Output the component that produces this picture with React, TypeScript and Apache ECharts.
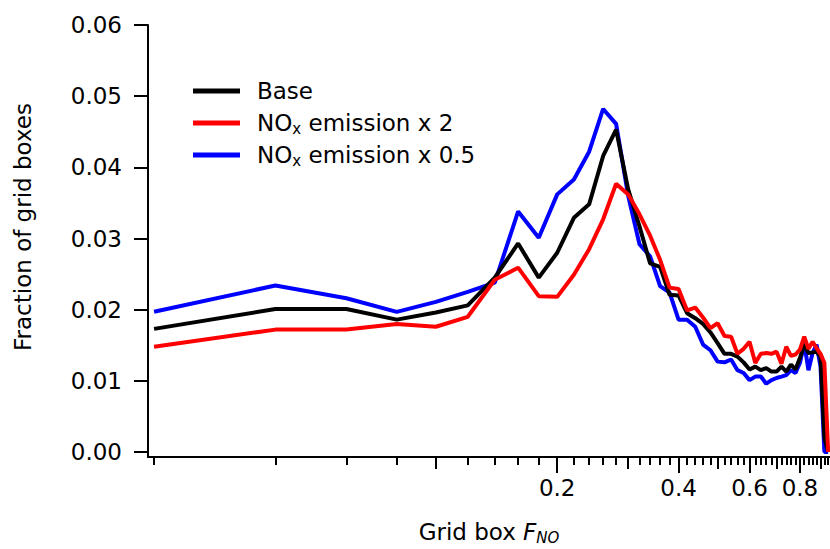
import React, { useEffect, useRef } from 'react';
import * as echarts from 'echarts';

// Bin centres of the grid-box F_NO histogram
const xBins = [
  0.02, 0.04, 0.06, 0.08, 0.10, 0.12, 0.14, 0.16, 0.18, 0.20,
  0.22, 0.24, 0.26, 0.28, 0.30, 0.32, 0.34, 0.36, 0.38, 0.40,
  0.42, 0.44, 0.46, 0.48, 0.50, 0.52, 0.54, 0.56, 0.58, 0.60,
  0.62, 0.64, 0.66, 0.68, 0.70, 0.72, 0.74, 0.76, 0.78, 0.80,
  0.82, 0.84, 0.86, 0.88, 0.90, 0.92, 0.94,
];

const baseValues = [
  0.0173, 0.0201, 0.0201, 0.0186, 0.0196, 0.0206, 0.0245, 0.0293, 0.0245, 0.0280,
  0.0329, 0.0348, 0.0416, 0.0453, 0.0369, 0.0317, 0.0265, 0.0260, 0.0221, 0.0220,
  0.0195, 0.0188, 0.0180, 0.0168, 0.0153, 0.0138, 0.0138, 0.0134, 0.0126, 0.0116,
  0.0120, 0.0115, 0.0118, 0.0113, 0.0113, 0.0120, 0.0113, 0.0123, 0.0116, 0.0132,
  0.0151, 0.0139, 0.0140, 0.0141, 0.0134, 0.0020, 0.0,
];

const noxX2Values = [
  0.0148, 0.0172, 0.0172, 0.0180, 0.0176, 0.0190, 0.0242, 0.0259, 0.0219, 0.0218,
  0.0249, 0.0285, 0.0327, 0.0377, 0.0362, 0.0334, 0.0304, 0.0270, 0.0231, 0.0229,
  0.0199, 0.0203, 0.0189, 0.0174, 0.0181, 0.0163, 0.0162, 0.0138, 0.0145, 0.0155,
  0.0125, 0.0138, 0.0139, 0.0138, 0.0141, 0.0124, 0.0148, 0.0135, 0.0137, 0.0144,
  0.0162, 0.0145, 0.0155, 0.0146, 0.0138, 0.0125, 0.0,
];

const noxHalfValues = [
  0.0197, 0.0234, 0.0216, 0.0197, 0.0211, 0.0225, 0.0238, 0.0338, 0.0301, 0.0362,
  0.0383, 0.0422, 0.0482, 0.0461, 0.0360, 0.0292, 0.0275, 0.0233, 0.0224, 0.0186,
  0.0186, 0.0176, 0.0151, 0.0143, 0.0127, 0.0126, 0.0130, 0.0115, 0.0111, 0.0101,
  0.0106, 0.0106, 0.0096, 0.0101, 0.0104, 0.0106, 0.0108, 0.0115, 0.0111, 0.0125,
  0.0153, 0.0115, 0.0139, 0.0151, 0.0120, 0.0, 0.0,
];

const seriesNames = ['Base', 'NOx emission x 2', 'NOx emission x 0.5'];
const legendLabels = ['Base', 'NO{sub|x} emission x 2', 'NO{sub|x} emission x 0.5'];

const yTickValues = [0, 0.01, 0.02, 0.03, 0.04, 0.05, 0.06];
const xMinorTicks = [
  0.02, 0.04, 0.06, 0.08, 0.12, 0.14, 0.16, 0.18,
  0.22, 0.24, 0.26, 0.28, 0.32, 0.34, 0.36, 0.38,
  0.42, 0.44, 0.46, 0.48, 0.52, 0.54, 0.56, 0.58,
  0.62, 0.64, 0.66, 0.68, 0.72, 0.74, 0.76, 0.78,
  0.82, 0.84, 0.86, 0.88, 0.92, 0.94,
];
const xMediumTicks = [0.1, 0.3, 0.5, 0.7, 0.9];
const xMajorTicks = [0.2, 0.4, 0.6, 0.8];

const FONT = 'DejaVu Sans';

export default function App() {
  const ref = useRef<HTMLDivElement>(null);

  useEffect(() => {
    if (!ref.current) return;
    const chart = echarts.init(ref.current, undefined, { renderer: 'svg' });

    const pairs = (vals: number[]) => xBins.map((x, i) => [x, vals[i]]);
    const xCommon: any = {
      type: 'log',
      min: 0.01932,
      max: 0.95,
      position: 'bottom',
      offset: 0,
      splitLine: { show: false },
      minorTick: { show: false },
    };
    const tickStyle = { color: '#000', width: 2 };

    chart.setOption({
      animation: false,
      textStyle: { fontFamily: FONT },
      grid: {
        left: 148,
        top: 25,
        width: 682,
        height: 432,
        containLabel: false,
        outerBoundsMode: 'none',
      },
      legend: {
        data: seriesNames,
        orient: 'vertical',
        left: 193,
        top: 78,
        padding: 0,
        itemWidth: 47,
        itemHeight: 5,
        itemGap: 6,
        icon: 'rect',
        formatter: (name: string) => legendLabels[seriesNames.indexOf(name)],
        textStyle: {
          fontFamily: FONT,
          fontSize: 23,
          color: '#000',
          lineHeight: 26,
          padding: [0, 0, 0, 12],
          rich: {
            sub: { fontFamily: FONT, fontSize: 15, lineHeight: 10, verticalAlign: 'bottom', color: '#000' },
          },
        },
      },
      xAxis: [
        {
          ...xCommon,
          axisLine: { show: true, onZero: false, lineStyle: tickStyle },
          axisTick: { show: true, customValues: xMajorTicks, length: 16, lineStyle: tickStyle },
          axisLabel: {
            show: true,
            customValues: xMajorTicks,
            margin: 19,
            fontSize: 23,
            fontFamily: FONT,
            color: '#000',
            formatter: (v: number) => String(Math.round(v * 10) / 10),
          },
          name: 'Grid box {f|F}{sub|NO}',
          nameLocation: 'middle',
          nameGap: 62,
          nameMoveOverlap: false,
          nameTextStyle: {
            fontFamily: FONT,
            fontSize: 23,
            color: '#000',
            lineHeight: 26,
            rich: {
              f: { fontFamily: FONT, fontSize: 23, fontStyle: 'italic', color: '#000', lineHeight: 26 },
              sub: { fontFamily: FONT, fontSize: 15, fontStyle: 'italic', color: '#000', lineHeight: 10, verticalAlign: 'bottom' },
            },
          },
        },
        {
          ...xCommon,
          axisLine: { show: false, onZero: false },
          axisTick: { show: true, customValues: xMediumTicks, length: 12, lineStyle: tickStyle },
          axisLabel: { show: false },
        },
        {
          ...xCommon,
          axisLine: { show: false, onZero: false },
          axisTick: { show: true, customValues: xMinorTicks, length: 8, lineStyle: tickStyle },
          axisLabel: { show: false },
        },
      ],
      yAxis: {
        type: 'value',
        min: -0.0007,
        max: 0.06,
        splitLine: { show: false },
        axisLine: { show: true, onZero: false, lineStyle: tickStyle },
        axisTick: { show: true, customValues: yTickValues, length: 14, lineStyle: tickStyle },
        axisLabel: {
          customValues: yTickValues,
          margin: 26,
          fontSize: 23,
          fontFamily: FONT,
          color: '#000',
          formatter: (v: number) => v.toFixed(2),
        },
        name: 'Fraction of grid boxes',
        nameLocation: 'middle',
        nameRotate: 90,
        nameGap: 114,
        nameMoveOverlap: false,
        nameTextStyle: { fontFamily: FONT, fontSize: 23, color: '#000', padding: [0, 0, 0, 28] },
      },
      series: [
        {
          name: seriesNames[2],
          type: 'line',
          data: pairs(noxHalfValues),
          showSymbol: false,
          symbol: 'none',
          color: '#0000ff',
          lineStyle: { color: '#0000ff', width: 4 },
          z: 2,
        },
        {
          name: seriesNames[0],
          type: 'line',
          data: pairs(baseValues),
          showSymbol: false,
          symbol: 'none',
          color: '#000000',
          lineStyle: { color: '#000000', width: 4 },
          z: 3,
        },
        {
          name: seriesNames[1],
          type: 'line',
          data: pairs(noxX2Values),
          showSymbol: false,
          symbol: 'none',
          color: '#ff0000',
          lineStyle: { color: '#ff0000', width: 4 },
          z: 4,
        },
      ],
    });

    return () => chart.dispose();
  }, []);

  return (
    <div
      ref={ref}
      style={{ position: 'absolute', left: 0, top: 0, width: 830, height: 549 }}
    />
  );
}
